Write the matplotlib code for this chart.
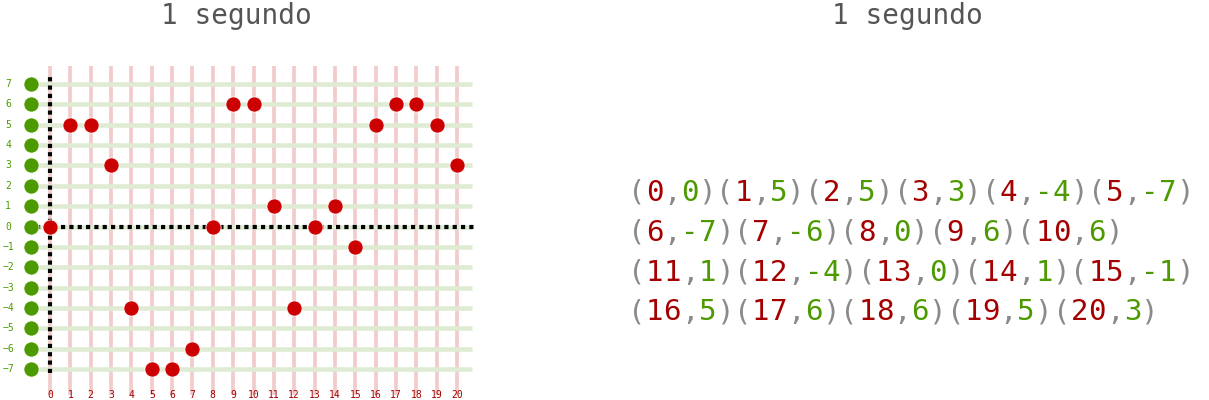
import matplotlib.pyplot as plt
import numpy as np

# data
xs = list(range(21))
ys = [0, 5, 5, 3, -4, -7, -7, -6, 0, 6, 6, 1, -4, 0, 1, -1, 5, 6, 6, 5, 3]
y_ticks = list(range(-7, 8))
line_breaks = [6, 5, 5, 5]
title = "1 segundo"

RED = "#cc0000"
DARK_RED = "#a50000"
GREEN = "#4c9a00"
GREY = "#8a8a8a"
FONT = "DejaVu Sans Mono"

W, H = 1209, 400
fig = plt.figure(figsize=(W / 100, H / 100), dpi=100)

# left panel: axes covering px 0..480 horizontally, 40..400 vertically
ax = fig.add_axes([0, 0, 480 / W, 360 / H])
ax.set_xlim(-2.457, 21.13)
ax.set_ylim(-8.52, 9.16)
ax.axis("off")

for x in xs:
    ax.plot([x, x], [-8.28, 7.9], color="#f2cccc", lw=2.7, zorder=1, solid_capstyle="butt")
for y in y_ticks:
    ax.plot([-0.59, 20.74], [y, y], color="#dfebd3", lw=3.3, zorder=1, solid_capstyle="butt")

ax.plot([0, 0], [-7.2, 7.5], color="black", lw=3, ls=(0, (1, 1)), zorder=2)
ax.plot([-0.7, 20.9], [0, 0], color="black", lw=3, ls=(0, (1, 1)), zorder=2)

ax.scatter([-0.93] * len(y_ticks), y_ticks, s=120, color=GREEN, edgecolor="white",
           linewidth=0.6, zorder=3)
ax.scatter(xs, ys, s=120, color=RED, edgecolor="white", linewidth=0.6, zorder=4)

for y in y_ticks:
    ax.text(-2.06, y, str(y).replace("-", "\u2212"), color=GREEN, fontsize=7,
            family=FONT, ha="center", va="center")
for x in xs:
    ax.text(x, -8.28, str(x), color=DARK_RED, fontsize=7, family=FONT,
            ha="center", va="center")

fig.text(236 / W, 1 - 16 / H, title, color="#555555", fontsize=20, family=FONT,
         ha="center", va="center")
fig.text(907 / W, 1 - 16 / H, title, color="#555555", fontsize=20, family=FONT,
         ha="center", va="center")

# right panel: coordinate list, one char per cell
char_w = 17.7
x0 = 628
line_y = [193, 233, 273, 312]
idx = 0
for row, n in enumerate(line_breaks):
    pos = 0
    for x, y in zip(xs[idx:idx + n], ys[idx:idx + n]):
        parts = [("(", GREY), (str(x), DARK_RED), (",", GREY),
                 (str(y), GREEN), (")", GREY)]
        for text, color in parts:
            for ch in text:
                fig.text((x0 + pos * char_w) / W, 1 - line_y[row] / H, ch,
                         color=color, fontsize=21, family=FONT,
                         ha="left", va="center")
                pos += 1
    idx += n

fig.savefig("out.png", dpi=100)
